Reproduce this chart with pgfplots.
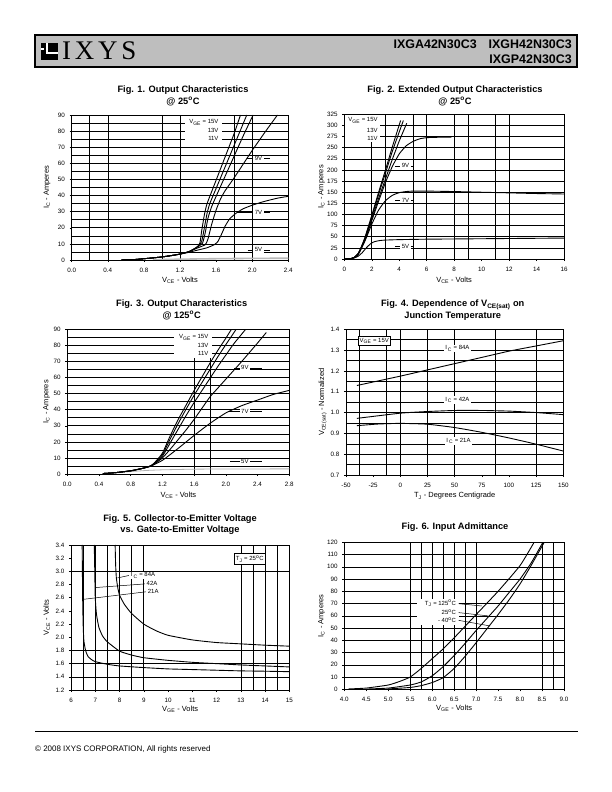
\documentclass[border=0pt]{standalone}
\usepackage{fontspec}
\setmainfont{Liberation Sans}
\newfontfamily\logofont[LetterSpace=14]{Liberation Serif}
\usepackage{pgfplots}
\pgfplotsset{compat=1.18}
\newcommand\tk{\fontsize{6.3}{7}\selectfont}
\newcommand\lb{\fontsize{7.5}{9}\selectfont}
\newcommand\ttl{\bfseries\fontsize{9.3}{11}\selectfont}
\newcommand\lbf{\fontsize{6}{7}\selectfont}
\pgfplotsset{
  ds/.style={
    scale only axis, anchor=south west,
    axis line style={black, line width=0.9pt},
    every tick/.style={black, line width=0.5pt},
    tick align=outside, tick pos=left,
    major tick length=2.2bp, minor tick length=0pt,
    ticklabel style={font=\tk},
    xticklabel style={yshift=-2.5bp},
    yticklabel style={xshift=-1bp},
    every axis x label/.style={at={(axis description cs:0.5,-0.14)}, anchor=center, font=\lb},
    every axis y label/.style={at={(axis description cs:-0.11,0.5)}, rotate=90, anchor=center, font=\lb},
    major grid style={black, line width=0.55pt},
    minor grid style={black, line width=0.55pt},
    /pgf/number format/assume math mode=true,
    scaled ticks=false,
  },
  cv/.style={black, line width=0.9pt, no markers, smooth, tension=0.3},
  fx1/.style={/pgf/number format/fixed, /pgf/number format/fixed zerofill, /pgf/number format/precision=1},
}
\tikzset{lab/.style={font=\lbf, inner xsep=1.5bp, inner ysep=0.8bp, fill=white},
  ld/.style={black, line width=0.5pt}}
\begin{document}
\begin{tikzpicture}
\path[use as bounding box, fill=white] (0,0) rectangle (612bp,792bp);
% header
\fill[fill={rgb,255:red,190;green,190;blue,190}] (35bp,725bp) rectangle (577bp,757bp);
\draw[black, line width=1.3bp] (35bp,725bp) rectangle (577bp,757bp);
\fill[black] (41bp,732bp) rectangle (58bp,749bp);
\draw[white, line width=1.5bp] (47bp,749bp) -- (47bp,739bp) -- (58bp,739bp);
\draw[white, line width=1.5bp] (41bp,743bp) -- (44bp,743bp);
\node[anchor=base west, inner sep=0, font=\logofont\fontsize{27}{28}\selectfont] at (62bp,732bp) {IXYS};
\node[anchor=base east, inner sep=0, font=\bfseries\fontsize{12.5}{14}\selectfont] at (572bp,743bp) {IXGA42N30C3\hspace{12bp}IXGH42N30C3};
\node[anchor=base east, inner sep=0, font=\bfseries\fontsize{12.5}{14}\selectfont] at (572bp,728.5bp) {IXGP42N30C3};
% footer
\draw[black, line width=0.8bp] (35bp,61bp) -- (578bp,61bp);
\node[anchor=base west, inner sep=0, font=\fontsize{8}{9}\selectfont] at (35bp,40bp) {\textcopyright\ 2008 IXYS CORPORATION, All rights reserved};
% titles
\node[font=\ttl] at (183bp,702bp) {Fig. 1. Output Characteristics};
\node[font=\ttl] at (183bp,690.3bp) {@ 25\textsuperscript{o}C};
\node[font=\ttl] at (455bp,702bp) {Fig. 2. Extended Output Characteristics};
\node[font=\ttl] at (455bp,690.3bp) {@ 25\textsuperscript{o}C};
\node[font=\ttl] at (181.7bp,487.7bp) {Fig. 3. Output Characteristics};
\node[font=\ttl] at (181.7bp,476.3bp) {@ 125\textsuperscript{o}C};
\node[font=\ttl] at (452.7bp,487bp) {Fig. 4. Dependence of V\textsubscript{CE(sat)} on};
\node[font=\ttl] at (452.7bp,476bp) {Junction Temperature};
\node[font=\ttl] at (180bp,272.7bp) {Fig. 5. Collector-to-Emitter Voltage};
\node[font=\ttl] at (180bp,262bp) {vs. Gate-to-Emitter Voltage};
\node[font=\ttl] at (455bp,265.3bp) {Fig. 6. Input Admittance};

% ---------------- Fig 1
\begin{axis}[ds, at={(71.7bp,532bp)}, width=216.6bp, height=145bp,
  xmin=0, xmax=2.4, ymin=0, ymax=90,
  xtick={0,0.4,0.8,1.2,1.6,2.0,2.4}, ytick={0,10,...,90},
  minor xtick={0.2,0.4,1.0,1.2,1.8,2.0}, minor ytick={5,15,...,85},
  xminorgrids, yminorgrids, ymajorgrids,
  xticklabel style={fx1},
  xlabel={V\textsubscript{CE} - Volts}, ylabel={I\textsubscript{C} - Amperes},
  ylabel style={at={(axis description cs:-0.114,0.5)}},
  xlabel style={at={(axis description cs:0.5,-0.138)}}]
\fill[white] (axis cs:1.25,72.5) rectangle (axis cs:1.66,88);
\addplot[cv, gray!55, line width=1.6pt] coordinates {(0.9,0.05)(1.0,0.25)(1.2,0.5)(1.6,0.8)(2.0,1.0)(2.4,1.1)};
\addplot[cv] coordinates {(0.55,0)(0.7,0.3)(0.8,0.8)(0.9,1.3)(1.0,1.9)(1.1,2.7)(1.2,3.7)(1.3,5.2)(1.38,7.5)(1.42,10.5)(1.44,18)(1.47,28)(1.5,35)(1.6,49.5)(1.7,64)(1.8,78.5)(1.87,90)};
\addplot[cv] coordinates {(0.55,0)(0.7,0.3)(0.8,0.8)(0.9,1.3)(1.0,1.9)(1.1,2.7)(1.2,3.7)(1.3,5.2)(1.40,8.5)(1.44,11.5)(1.47,20)(1.5,29)(1.53,35)(1.6,44.4)(1.7,57.8)(1.8,71.2)(1.94,90)};
\addplot[cv] coordinates {(0.55,0)(0.7,0.3)(0.8,0.8)(0.9,1.3)(1.0,1.9)(1.1,2.7)(1.2,3.7)(1.3,5.2)(1.40,8.3)(1.45,10.5)(1.48,17)(1.51,26)(1.55,33)(1.6,39.5)(1.7,52)(1.8,64.5)(1.9,77)(2.01,90)};
\addplot[cv] coordinates {(0.55,0)(0.7,0.3)(0.8,0.8)(0.9,1.3)(1.0,1.9)(1.1,2.7)(1.2,3.7)(1.3,5.2)(1.4,7.6)(1.48,9.5)(1.51,13)(1.55,22)(1.6,31)(1.65,38)(1.7,43)(1.8,51)(1.9,59.5)(2.0,68)(2.15,80)(2.28,90)};
\addplot[cv] coordinates {(0.55,0)(0.7,0.3)(0.8,0.8)(0.9,1.3)(1.0,1.9)(1.1,2.7)(1.2,3.6)(1.3,4.8)(1.4,6.2)(1.5,7.6)(1.58,9.5)(1.62,11.5)(1.66,16)(1.7,21)(1.75,25.5)(1.82,29)(1.9,31.8)(2.0,34)(2.1,35.8)(2.2,37.3)(2.3,38.6)(2.4,39.5)};
\node[lab, anchor=east, fill=none] at (axis cs:1.645,85.3) {V\textsubscript{GE} = 15V};
\node[lab, anchor=east, fill=none] at (axis cs:1.645,80.2) {13V};
\node[lab, anchor=east, fill=none] at (axis cs:1.645,75.2) {11V};
\draw[ld] (axis cs:1.94,63) -- (axis cs:2.2,63);
\node[lab] at (axis cs:2.07,63) {9V};
\draw[ld] (axis cs:1.83,29.5) -- (axis cs:2.2,29.5);
\node[lab] at (axis cs:2.07,29.5) {7V};
\draw[ld] (axis cs:1.95,6.3) -- (axis cs:2.2,6.3);
\node[lab] at (axis cs:2.07,6.3) {5V};
\end{axis}

% ---------------- Fig 2
\begin{axis}[ds, at={(344.3bp,533bp)}, width=219.7bp, height=144.7bp,
  xmin=0, xmax=16, ymin=0, ymax=325,
  xtick={0,2,...,16}, ytick={0,25,...,325},
  minor xtick={2,3,5,6,8,9,11,12},
  xminorgrids, ymajorgrids,
  xlabel={V\textsubscript{CE} - Volts}, ylabel={I\textsubscript{C} - Amperes},
  ylabel style={at={(axis description cs:-0.103,0.5)}},
  xlabel style={at={(axis description cs:0.5,-0.145)}}]
\fill[white] (axis cs:0.08,262) rectangle (axis cs:2.6,323);
\addplot[cv] coordinates {(0,0)(0.4,0.5)(0.7,3)(1.0,12)(1.2,24)(1.5,48)(2,98)(2.5,150)(3,200)(3.5,252)(4.1,311)};
\addplot[cv] coordinates {(0,0)(0.4,0.5)(0.7,3)(1.0,12)(1.2,24)(1.5,47)(2,95)(2.5,145)(3,193)(3.5,242)(4.3,311)};
\addplot[cv] coordinates {(0,0)(0.4,0.5)(0.7,3)(1.0,11)(1.2,23)(1.5,45)(2,90)(2.5,136)(3,180)(3.5,224)(4.0,265)(4.55,305)};
\addplot[cv] coordinates {(0,0)(0.4,0.5)(0.7,3)(1.0,10)(1.5,42)(2,86)(2.5,130)(3,172)(3.5,208)(4,236)(4.5,254)(5,264)(5.5,270)(6,272.5)(7,273.5)(7.8,273.5)};
\addplot[cv] coordinates {(0,0)(0.4,0.5)(0.7,3)(1.0,9)(1.5,40)(2,78)(2.5,110)(3,131)(3.5,143)(4,149)(4.5,151.5)(5,152.5)(6,152.5)(8,151.5)(10,150)(12,148.5)(14,147)(16,146)};
\addplot[cv] coordinates {(0,0)(0.4,0.5)(0.7,2)(1.0,6)(1.3,14)(1.6,25)(1.9,34)(2.2,39)(2.6,41.5)(3,42.5)(4,43.5)(6,44.5)(8,45)(10,45.5)(12,46)(14,46.5)(16,47)};
\node[lab, anchor=east, fill=none] at (axis cs:2.55,311) {V\textsubscript{GE} = 15V};
\node[lab, anchor=east, fill=none] at (axis cs:2.55,288) {13V};
\node[lab, anchor=east, fill=none] at (axis cs:2.55,271) {11V};
\draw[ld] (axis cs:3.7,209) -- (axis cs:5.0,209);
\node[lab] at (axis cs:4.45,209) {9V};
\draw[ld] (axis cs:3.7,132) -- (axis cs:5.0,132);
\node[lab] at (axis cs:4.45,132) {7V};
\draw[ld] (axis cs:3.7,28) -- (axis cs:5.0,28);
\node[lab] at (axis cs:4.45,28) {5V};
\end{axis}

% ---------------- Fig 3
\begin{axis}[ds, at={(67.3bp,318bp)}, width=222bp, height=144.7bp,
  xmin=0, xmax=2.8, ymin=0, ymax=90,
  xtick={0,0.4,0.8,1.2,1.6,2.0,2.4,2.8}, ytick={0,10,...,90},
  minor ytick={5,15,...,85},
  yminorgrids, ymajorgrids,
  xticklabel style={fx1},
  xlabel={V\textsubscript{CE} - Volts}, ylabel={I\textsubscript{C} - Amperes},
  ylabel style={at={(axis description cs:-0.093,0.5)}},
  xlabel style={at={(axis description cs:0.5,-0.145)}}]
\draw[black, line width=0.55pt] (axis cs:1.6,0) -- (axis cs:1.6,72);
\draw[black, line width=0.55pt] (axis cs:1.8,0) -- (axis cs:1.8,72);
\fill[white] (axis cs:1.34,72) rectangle (axis cs:1.82,88);
\addplot[cv, gray!60, line width=0.8pt] coordinates {(0.6,0.6)(0.8,1.5)(1.0,2.2)(1.2,2.6)(1.6,3)(2.0,3.1)(2.8,3.2)};
\addplot[cv] coordinates {(0.45,0.3)(0.6,0.8)(0.8,2)(0.95,3.5)(1.05,5)(1.1,7)(1.2,13)(1.3,24)(1.4,34)(1.5,43)(1.6,52)(1.7,60.5)(1.8,69)(1.9,77)(2.0,84.5)(2.07,90)};
\addplot[cv] coordinates {(0.45,0.3)(0.6,0.8)(0.8,2)(0.95,3.5)(1.05,5)(1.1,6.8)(1.2,12)(1.3,22)(1.4,31.5)(1.5,40.5)(1.6,49)(1.7,57)(1.8,65)(1.9,73)(2.0,80.5)(2.13,90)};
\addplot[cv] coordinates {(0.45,0.3)(0.6,0.8)(0.8,2)(0.95,3.5)(1.05,5)(1.1,6.5)(1.2,11)(1.3,19.5)(1.4,28)(1.5,36.5)(1.6,44.5)(1.7,52)(1.8,59.5)(1.9,67)(2.0,74)(2.1,81)(2.25,90)};
\addplot[cv] coordinates {(0.45,0.3)(0.6,0.8)(0.8,2)(0.95,3.5)(1.05,5)(1.1,6.2)(1.2,10)(1.3,15.5)(1.4,21.5)(1.5,27.5)(1.6,34)(1.7,41)(1.8,48)(1.9,53.5)(2.0,59)(2.2,70)(2.4,81.5)(2.51,88)};
\addplot[cv] coordinates {(0.45,0.3)(0.6,0.8)(0.8,2)(0.95,3.5)(1.05,4.8)(1.2,8.5)(1.4,16)(1.6,24)(1.8,31.5)(2.0,38)(2.2,42.5)(2.4,46)(2.6,49.5)(2.8,52)};
\node[lab, anchor=east, fill=none] at (axis cs:1.8,85) {V\textsubscript{GE} = 15V};
\node[lab, anchor=east, fill=none] at (axis cs:1.8,80) {13V};
\node[lab, anchor=east, fill=none] at (axis cs:1.8,75) {11V};
\draw[ld] (axis cs:2.1,66) -- (axis cs:2.45,66);
\node[lab] at (axis cs:2.24,66) {9V};
\draw[ld] (axis cs:2.03,38.8) -- (axis cs:2.45,38.8);
\node[lab] at (axis cs:2.24,38.8) {7V};
\draw[ld] (axis cs:2.05,7.7) -- (axis cs:2.45,7.7);
\node[lab] at (axis cs:2.24,7.7) {5V};
\end{axis}

% ---------------- Fig 4
\begin{axis}[ds, at={(346bp,317bp)}, width=217.3bp, height=145.7bp,
  xmin=-50, xmax=150, ymin=0.7, ymax=1.4,
  xtick={-50,-25,...,150}, ytick={0.7,0.8,0.9,1.0,1.1,1.2,1.3,1.4},
  minor ytick={0.75,0.85,0.95,1.05,1.15,1.25,1.35},
  minor xtick={-37.5,-12.5,0,25,50,87.5,125},
  xminorgrids, yminorgrids, ymajorgrids,
  yticklabel style={fx1},
  xlabel={T\textsubscript{J} - Degrees Centigrade}, ylabel={V\textsubscript{CE(sat)} - Normalized},
  ylabel style={at={(axis description cs:-0.107,0.5)}},
  xlabel style={at={(axis description cs:0.5,-0.144)}}]
\addplot[cv] coordinates {(-40,1.13)(0,1.175)(25,1.205)(50,1.235)(75,1.265)(100,1.295)(125,1.32)(150,1.345)};
\addplot[cv] coordinates {(-40,0.972)(0,0.997)(25,1.005)(50,1.01)(75,1.01)(100,1.007)(125,1.0)(150,0.99)};
\addplot[cv] coordinates {(-40,0.937)(-20,0.945)(0,0.948)(25,0.944)(50,0.928)(75,0.905)(100,0.878)(125,0.848)(150,0.815)};
\node[lab, draw, line width=0.6pt, inner sep=1.8bp] at (axis cs:-24,1.345) {V\textsubscript{GE} = 15V};
\node[lab] at (axis cs:52.5,1.309) {I\,\textsubscript{C} = 84A};
\node[lab] at (axis cs:52.5,1.06) {I\,\textsubscript{C} = 42A};
\node[lab] at (axis cs:53.5,0.863) {I\,\textsubscript{C} = 21A};
\end{axis}

% ---------------- Fig 5
\begin{axis}[ds, at={(71bp,102bp)}, width=218.3bp, height=145bp,
  xmin=6, xmax=15, ymin=1.2, ymax=3.4,
  xtick={6,...,15}, ytick={1.2,1.4,1.6,1.8,2.0,2.2,2.4,2.6,2.8,3.0,3.2,3.4},
  minor xtick={6.5,7,7.5,8,8.5,9,13,13.5,14,14.5},
  minor ytick={1.4,1.6,1.8,3.0},
  xminorgrids, yminorgrids,
  yticklabel style={fx1},
  xlabel={V\textsubscript{GE} - Volts}, ylabel={V\textsubscript{CE} - Volts},
  ylabel style={at={(axis description cs:-0.111,0.5)}},
  xlabel style={at={(axis description cs:0.5,-0.131)}}]
\addplot[cv] coordinates {(7.82,3.4)(7.84,3.1)(7.87,2.9)(7.93,2.75)(8.0,2.64)(8.2,2.5)(8.5,2.36)(9,2.2)(9.5,2.1)(10,2.03)(11,1.96)(12,1.92)(13,1.9)(14,1.88)(15,1.865)};
\addplot[cv] coordinates {(6.96,3.4)(6.98,3.0)(7.0,2.6)(7.05,2.35)(7.15,2.15)(7.3,2.02)(7.5,1.93)(8,1.79)(8.5,1.73)(9,1.69)(10,1.65)(11,1.62)(12,1.6)(13,1.58)(14,1.565)(15,1.55)};
\addplot[cv] coordinates {(6.46,3.4)(6.47,3.0)(6.48,2.6)(6.5,2.2)(6.53,1.95)(6.6,1.8)(6.7,1.71)(6.85,1.66)(7,1.63)(7.5,1.59)(8,1.565)(9,1.54)(10,1.52)(11,1.51)(12,1.5)(13,1.49)(14,1.485)(15,1.478)};
\draw[ld] (axis cs:7.91,2.9) -- (axis cs:8.42,2.94);
\draw[ld] (axis cs:7.03,2.755) -- (axis cs:9.07,2.81);
\draw[ld] (axis cs:6.5,2.575) -- (axis cs:9.1,2.69);
\node[lab, anchor=west] at (axis cs:8.4,2.935) {I\,\textsubscript{C} = 84A};
\node[lab, anchor=west] at (axis cs:9.05,2.81) {42A};
\node[lab, anchor=west] at (axis cs:9.1,2.69) {21A};
\node[lab, draw, line width=0.6pt, inner sep=1.8bp] at (axis cs:13.37,3.19) {T\textsubscript{J} = 25\textsuperscript{o}C};
\end{axis}

% ---------------- Fig 6
\begin{axis}[ds, at={(344.3bp,102.7bp)}, width=219.7bp, height=147bp,
  xmin=4, xmax=9, ymin=0, ymax=120,
  xtick={4,4.5,5,5.5,6,6.5,7,7.5,8,8.5,9}, ytick={0,10,...,120},
  minor xtick={5.5,5.75,6,6.25,6.5,6.75,7,8.5,8.75},
  xminorgrids, ymajorgrids,
  xticklabel style={fx1},
  xlabel={V\textsubscript{GE} - Volts}, ylabel={I\textsubscript{C} - Amperes},
  ylabel style={at={(axis description cs:-0.103,0.5)}},
  xlabel style={at={(axis description cs:0.5,-0.13)}}]
\fill[white] (axis cs:5.65,52.5) rectangle (axis cs:6.62,74);
\addplot[cv] coordinates {(4.1,0.3)(4.5,1)(5.0,3.5)(5.25,6.3)(5.5,10)(5.75,17)(6.0,25)(6.25,33)(6.5,42)(6.75,51.5)(7.0,61)(7.5,80)(8.0,101)(8.32,120)};
\addplot[cv] coordinates {(4.5,0.2)(5.0,1)(5.5,3.5)(5.75,6)(6.0,11)(6.25,18.5)(6.5,27.5)(6.75,37.5)(7.0,48)(7.25,58)(7.5,68)(7.75,79)(8.0,90)(8.25,103)(8.52,120)};
\addplot[cv] coordinates {(5.0,0.3)(5.5,1.5)(5.75,3)(6.0,5.5)(6.25,9.5)(6.5,17)(6.75,27)(7.0,38)(7.25,49.5)(7.5,61)(7.75,73)(8.0,86)(8.25,101)(8.55,120)};
\draw[ld] (axis cs:6.6,69.9) -- (axis cs:7.13,68);
\draw[ld] (axis cs:6.6,62.6) -- (axis cs:7.28,59.9);
\draw[ld] (axis cs:6.6,56.3) -- (axis cs:7.32,51.7);
\node[lab, anchor=east, fill=none] at (axis cs:6.58,70) {T\textsubscript{J} = 125\textsuperscript{o}C};
\node[lab, anchor=east, fill=none] at (axis cs:6.58,62.8) {25\textsuperscript{o}C};
\node[lab, anchor=east, fill=none] at (axis cs:6.58,56.5) {- 40\textsuperscript{o}C};
\end{axis}
\end{tikzpicture}
\end{document}
